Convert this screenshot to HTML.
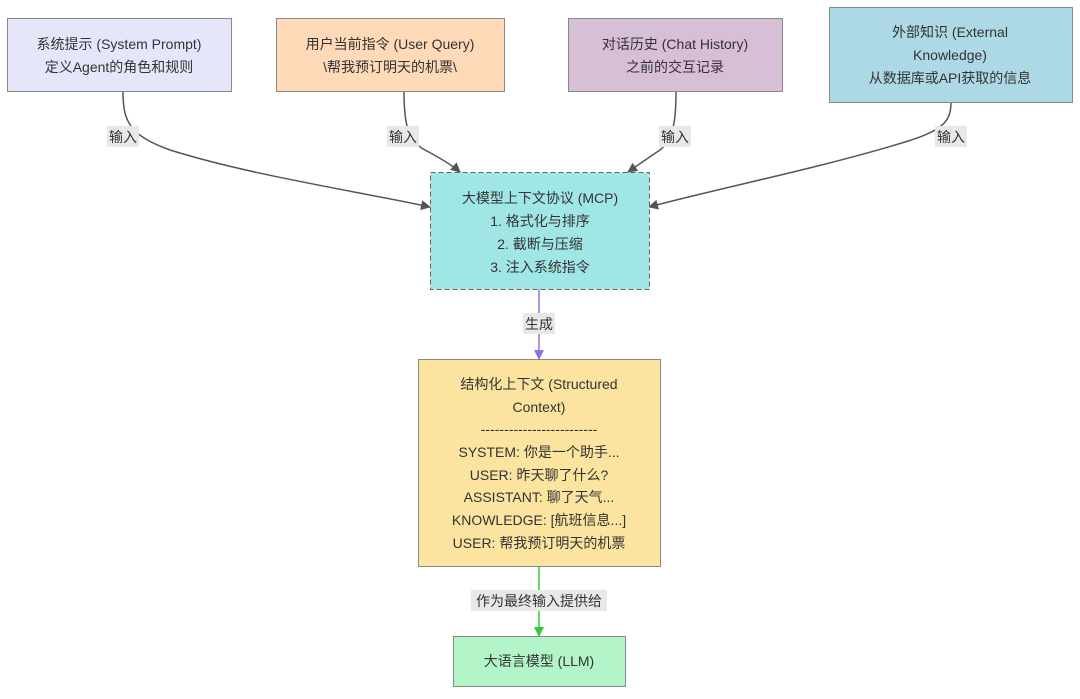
<!DOCTYPE html>
<html><head><meta charset="utf-8"><style>
html,body{margin:0;padding:0;background:#fff;}
svg text{font-family:"Liberation Sans","Noto Sans CJK SC",sans-serif;font-size:14px;fill:#333;text-anchor:middle;}
</style></head><body>
<svg width="1080" height="694" viewBox="0 0 1080 694" xmlns="http://www.w3.org/2000/svg">
<defs>
<marker id="ag" markerWidth="10" markerHeight="10" refX="9" refY="5" orient="auto" markerUnits="userSpaceOnUse"><path d="M0,0 L10,5 L0,10 z" fill="#555"/></marker>
<marker id="ap" markerWidth="10" markerHeight="10" refX="9" refY="5" orient="auto" markerUnits="userSpaceOnUse"><path d="M0,0 L10,5 L0,10 z" fill="#9370db"/></marker>
<marker id="agr" markerWidth="10" markerHeight="10" refX="9" refY="5" orient="auto" markerUnits="userSpaceOnUse"><path d="M0,0 L10,5 L0,10 z" fill="#32cd32"/></marker>
</defs>
<g fill="none" stroke="#555" stroke-width="1.5">
<path d="M123,91 C123,120 128,135 170,150 C250,175 350,190 430,207" marker-end="url(#ag)"/>
<path d="M404,91 C404,115 405,140 425,150 C440,158 452,165 460,172" marker-end="url(#ag)"/>
<path d="M676,91 C676,115 675,138 660,150 C648,158 638,165 628,172" marker-end="url(#ag)"/>
<path d="M951,102 C951,120 945,130 905,142 C820,168 720,188 649,207" marker-end="url(#ag)"/>
</g>
<line x1="539" y1="289" x2="539" y2="359" stroke="#9370db" stroke-width="1.5" marker-end="url(#ap)"/>
<line x1="539" y1="566" x2="539" y2="636" stroke="#32cd32" stroke-width="1.5" marker-end="url(#agr)"/>

<rect x="7.5" y="18.5" width="224" height="73" fill="#e6e6fa" stroke="#888"/>
<text x="119" y="49">系统提示 (System Prompt)</text>
<text x="119" y="72">定义Agent的角色和规则</text>

<rect x="276.5" y="18.5" width="228" height="73" fill="#ffdab9" stroke="#888"/>
<text x="390" y="49">用户当前指令 (User Query)</text>
<text x="390" y="72">\帮我预订明天的机票\</text>

<rect x="568.5" y="18.5" width="214" height="73" fill="#d8bfd8" stroke="#888"/>
<text x="675" y="49">对话历史 (Chat History)</text>
<text x="675" y="72">之前的交互记录</text>

<rect x="829.5" y="7.5" width="243" height="95" fill="#add8e6" stroke="#888"/>
<text x="950" y="37">外部知识 (External</text>
<text x="950" y="60">Knowledge)</text>
<text x="950" y="83">从数据库或API获取的信息</text>

<g fill="#e8e8e8"><rect x="107" y="126" width="32" height="21"/><rect x="387" y="126" width="32" height="21"/><rect x="659" y="126" width="32" height="21"/><rect x="935" y="126" width="32" height="21"/><rect x="523" y="313" width="32" height="21"/><rect x="471" y="590" width="136" height="21"/></g>
<text x="123" y="142">输入</text><text x="403" y="142">输入</text><text x="675" y="142">输入</text><text x="951" y="142">输入</text>
<text x="539" y="329">生成</text>
<text x="539" y="606">作为最终输入提供给</text>

<rect x="430.5" y="172.5" width="219" height="117" fill="#a0e6e4" stroke="#666" stroke-dasharray="5,3"/>
<text x="540" y="203">大模型上下文协议 (MCP)</text>
<text x="540" y="226">1. 格式化与排序</text>
<text x="540" y="249">2. 截断与压缩</text>
<text x="540" y="272">3. 注入系统指令</text>

<rect x="418.5" y="359.5" width="242" height="207" fill="#fae4a0" stroke="#888"/>
<text x="539" y="389">结构化上下文 (Structured</text>
<text x="539" y="412">Context)</text>
<text x="539" y="434">-------------------------</text>
<text x="539" y="457">SYSTEM: 你是一个助手...</text>
<text x="539" y="480">USER: 昨天聊了什么?</text>
<text x="539" y="502">ASSISTANT: 聊了天气...</text>
<text x="539" y="525">KNOWLEDGE: [航班信息...]</text>
<text x="539" y="548">USER: 帮我预订明天的机票</text>

<rect x="453.5" y="636.5" width="172" height="50" fill="#b3f5c8" stroke="#888"/>
<text x="539" y="666">大语言模型 (LLM)</text>
</svg>
</body></html>
